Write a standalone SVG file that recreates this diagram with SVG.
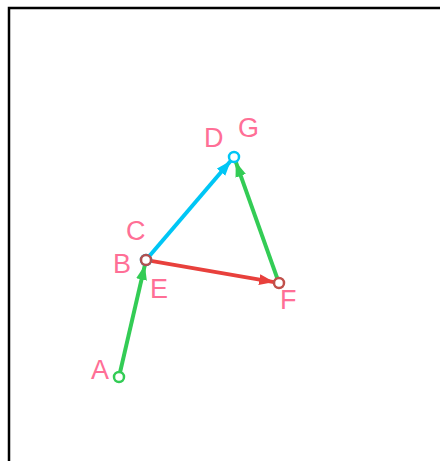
<svg xmlns="http://www.w3.org/2000/svg" width="440" height="461" viewBox="0 0 440 461">
<style>
.lbl{font-family:"Liberation Sans",Arial,sans-serif;font-size:27px;fill:#ff6f96}
.edge{stroke-width:4;fill:none}
.pt{stroke-width:2.5;fill:#ffffff}
</style>
<defs>
<marker id="ag" markerUnits="userSpaceOnUse" markerWidth="17" markerHeight="12" refX="15" refY="5.5" orient="auto"><path d="M0,0 L15,5.5 L0,11 z" fill="#33cc55"/></marker>
<marker id="ac" markerUnits="userSpaceOnUse" markerWidth="17" markerHeight="12" refX="15" refY="5.5" orient="auto"><path d="M0,0 L15,5.5 L0,11 z" fill="#00c6f5"/></marker>
<marker id="ar" markerUnits="userSpaceOnUse" markerWidth="17" markerHeight="12" refX="15" refY="5.5" orient="auto"><path d="M0,0 L15,5.5 L0,11 z" fill="#e8403c"/></marker>
</defs>
<rect x="0" y="0" width="440" height="461" fill="#ffffff"/>
<rect x="9" y="8" width="460" height="480" fill="none" stroke="#000" stroke-width="2.5"/>
<g id="connectors">
<line class="edge" x1="120.1" y1="372.1" x2="144.9" y2="264.9" stroke="#33cc55" marker-end="url(#ag)"/>
<line class="edge" x1="149.2" y1="256.2" x2="230.8" y2="160.8" stroke="#00c6f5" marker-end="url(#ac)"/>
<line class="edge" x1="150.9" y1="260.9" x2="274.1" y2="282.1" stroke="#e8403c" marker-end="url(#ar)"/>
<line class="edge" x1="277.3" y1="278.3" x2="235.7" y2="161.7" stroke="#33cc55" marker-end="url(#ag)"/>
</g>
<g id="A"><circle class="pt" cx="119" cy="377" r="5" stroke="#33cc55"/><text class="lbl" x="91" y="379">A</text></g>
<g id="C"><circle class="pt" cx="146" cy="260" r="5" stroke="#00c6f5"/><text class="lbl" x="126" y="240">C</text></g>
<g id="B"><circle class="pt" cx="146" cy="260" r="5" stroke="#b05050"/><text class="lbl" x="113" y="273">B</text></g>
<g id="E"><text class="lbl" x="150" y="298">E</text></g>
<g id="D"><circle class="pt" cx="234" cy="157" r="5" stroke="#00c6f5"/><text class="lbl" x="204" y="147">D</text></g>
<g id="G"><text class="lbl" x="238" y="137">G</text></g>
<g id="F"><circle class="pt" cx="279" cy="283" r="5" stroke="#c0504a"/><text class="lbl" x="280" y="309">F</text></g>
</svg>
